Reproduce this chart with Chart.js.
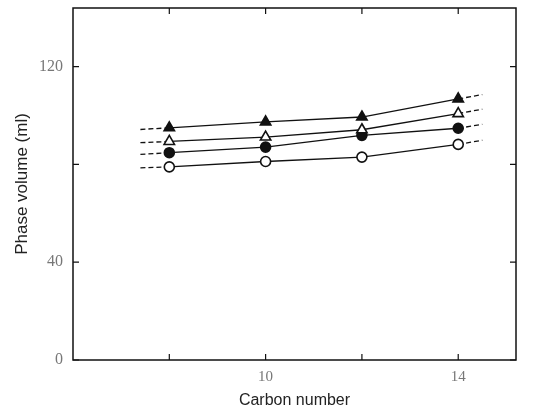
<!DOCTYPE html>
<html>
<head>
<meta charset="utf-8">
<script src="https://cdn.jsdelivr.net/npm/chart.js@4.4.0/dist/chart.umd.min.js"></script>
<style>
  html, body { margin: 0; padding: 0; background: #fff; }
  #wrap { width: 545px; height: 414px; }
</style>
</head>
<body>
<div id="wrap"><canvas id="phase-chart"></canvas></div>
<script>
// carbon numbers; first and last entries are the ends of the dashed line stubs
const carbonNumbers = [7.4, 8, 10, 12, 14, 14.5];
const filledTriangle = [94.3, 95, 97.4, 99.4, 106.8, 108.6];
const openTriangle = [88.9, 89.4, 91.2, 94.2, 100.8, 102.6];
const filledCircle = [84.1, 84.8, 87.1, 91.9, 94.8, 96.4];
const openCircle = [78.6, 79, 81.2, 83, 88.2, 89.9];

const xTicks = [8, 10, 12, 14];
const xLabels = ['', '10', '', '14'];
const yTicks = [0, 40, 80, 120];
const yLabels = ['0', '40', '', '120'];

const lastIdx = carbonNumbers.length - 1;
const toPoints = vals => vals.map((v, i) => ({ x: carbonNumbers[i], y: v }));

function makeSet(label, vals, style, fill) {
  return {
    label: label,
    data: toPoints(vals),
    borderColor: '#111',
    borderWidth: 1.3,
    pointStyle: style,
    pointBackgroundColor: fill,
    pointBorderColor: '#111',
    pointBorderWidth: 1.6,
    pointRadius: ctx => (ctx.dataIndex === 0 || ctx.dataIndex === lastIdx) ? 0 : (style === 'triangle' ? 6 : 5),
    tension: 0,
    segment: {
      borderDash: ctx => (ctx.p0DataIndex === 0 || ctx.p1DataIndex === lastIdx) ? [5, 3] : undefined
    }
  };
}

// box outline and inward tick marks on all four sides
const frameTicks = {
  id: 'frameTicks',
  afterDraw(chart) {
    const c = chart.ctx, a = chart.chartArea;
    const xs = chart.scales.x, ys = chart.scales.y;
    c.save();
    c.strokeStyle = '#111';
    c.lineWidth = 1.5;
    c.strokeRect(a.left, a.top, a.right - a.left, a.bottom - a.top);
    c.lineWidth = 1.2;
    c.beginPath();
    xTicks.forEach(v => {
      const px = xs.getPixelForValue(v);
      c.moveTo(px, a.bottom); c.lineTo(px, a.bottom - 6);
      c.moveTo(px, a.top); c.lineTo(px, a.top + 6);
    });
    yTicks.forEach(v => {
      const py = ys.getPixelForValue(v);
      c.moveTo(a.left, py); c.lineTo(a.left + 6, py);
      c.moveTo(a.right, py); c.lineTo(a.right - 6, py);
    });
    c.stroke();
    c.restore();
  }
};

new Chart(document.getElementById('phase-chart'), {
  type: 'line',
  data: {
    datasets: [
      makeSet('Filled triangle', filledTriangle, 'triangle', '#111'),
      makeSet('Open triangle', openTriangle, 'triangle', '#fff'),
      makeSet('Filled circle', filledCircle, 'circle', '#111'),
      makeSet('Open circle', openCircle, 'circle', '#fff')
    ]
  },
  options: {
    responsive: true,
    maintainAspectRatio: false,
    animation: false,
    layout: { padding: { top: 8, right: 29, left: 8, bottom: 0 } },
    scales: {
      x: {
        type: 'linear',
        min: 6,
        max: 15.2,
        afterBuildTicks: scale => { scale.ticks = xTicks.map(v => ({ value: v })); },
        afterFit: scale => { scale.height = 54; },
        grid: { display: false, drawTicks: false },
        border: { display: false },
        ticks: {
          padding: 8,
          color: '#777',
          font: { family: 'Liberation Serif', size: 15 },
          callback: (value, index) => xLabels[index]
        },
        title: {
          display: true,
          text: 'Carbon number',
          color: '#222',
          padding: { top: 0 },
          font: { family: 'Liberation Sans', size: 16 }
        }
      },
      y: {
        min: 0,
        max: 144,
        afterBuildTicks: scale => { scale.ticks = yTicks.map(v => ({ value: v })); },
        afterFit: scale => { scale.width = 65; scale.paddingTop = 0; },
        grid: { display: false, drawTicks: false },
        border: { display: false },
        ticks: {
          padding: 10,
          color: '#777',
          font: { family: 'Liberation Serif', size: 16 },
          callback: (value, index) => yLabels[index]
        },
        title: {
          display: true,
          text: 'Phase volume (ml)',
          color: '#222',
          font: { family: 'Liberation Sans', size: 17 }
        }
      }
    },
    plugins: {
      legend: { display: false },
      tooltip: { enabled: false }
    }
  },
  plugins: [frameTicks]
});
</script>
</body>
</html>
